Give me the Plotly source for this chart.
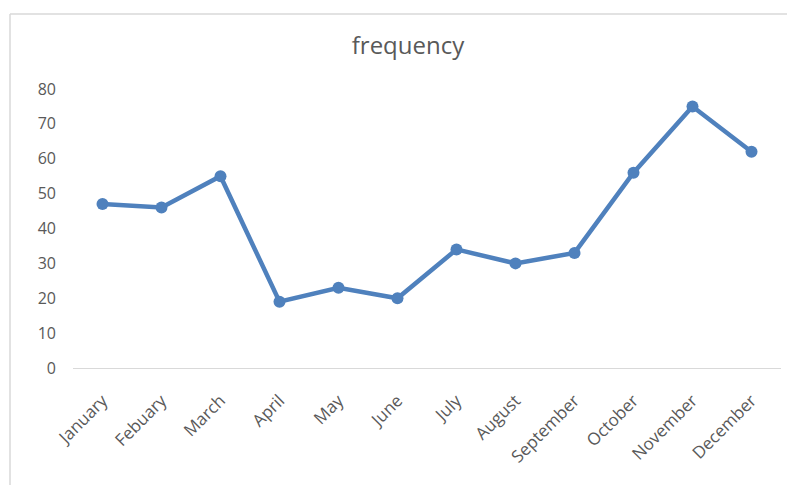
import plotly.graph_objects as go

months = ["January", "Febuary", "March", "April", "May", "June", "July",
          "August", "September", "October", "November", "December"]
frequency = [47, 46, 55, 19, 23, 20, 34, 30, 33, 56, 75, 62]
y_ticks = [0, 10, 20, 30, 40, 50, 60, 70, 80]

W, H = 795, 485
OFF = 8  # page body margin
L, T = 73 - OFF, 89 - OFF
pw, ph = 708, 279
R, B = W - L - pw, H - T - ph

def px_x(p):
    return (p - OFF - L) / pw

def px_y(p):
    return (T + ph - (p - OFF)) / ph

fig = go.Figure()
fig.add_trace(go.Scatter(
    x=months, y=frequency, mode="lines+markers",
    line=dict(color="#4f81bd", width=4.5),
    marker=dict(color="#4f81bd", size=12),
    name="frequency",
))

fig.update_layout(
    width=W, height=H,
    margin=dict(l=L, r=R, t=T, b=B),
    paper_bgcolor="white", plot_bgcolor="white",
    showlegend=False,
    font=dict(family="Open Sans", color="#595959", size=16),
    title=dict(text="frequency", x=(408 - OFF) / W, xanchor="center",
               y=1 - (46 - OFF) / H, yanchor="middle",
               font=dict(family="Open Sans", size=24, color="#595959")),
    xaxis=dict(range=[-0.5, 11.5], showgrid=False, showline=True, linecolor="#d9d9d9",
               linewidth=1, tickangle=-45, ticks="", zeroline=False,
               ticklabelstandoff=15,
               tickfont=dict(size=17, color="#595959")),
    yaxis=dict(range=[0, 80], tickvals=y_ticks, showgrid=False, showline=False, zeroline=False,
               ticks="", ticklabelstandoff=16, tickfont=dict(size=16, color="#595959")),
    shapes=[
        dict(type="line", xref="paper", yref="paper", x0=px_x(10), x1=px_x(10),
             y0=px_y(14), y1=px_y(495), line=dict(color="#d9d9d9", width=1.5)),
        dict(type="line", xref="paper", yref="paper", x0=px_x(10), x1=px_x(805),
             y0=px_y(14), y1=px_y(14), line=dict(color="#d9d9d9", width=1.5)),
    ],
)

fig.write_html("out.html")
